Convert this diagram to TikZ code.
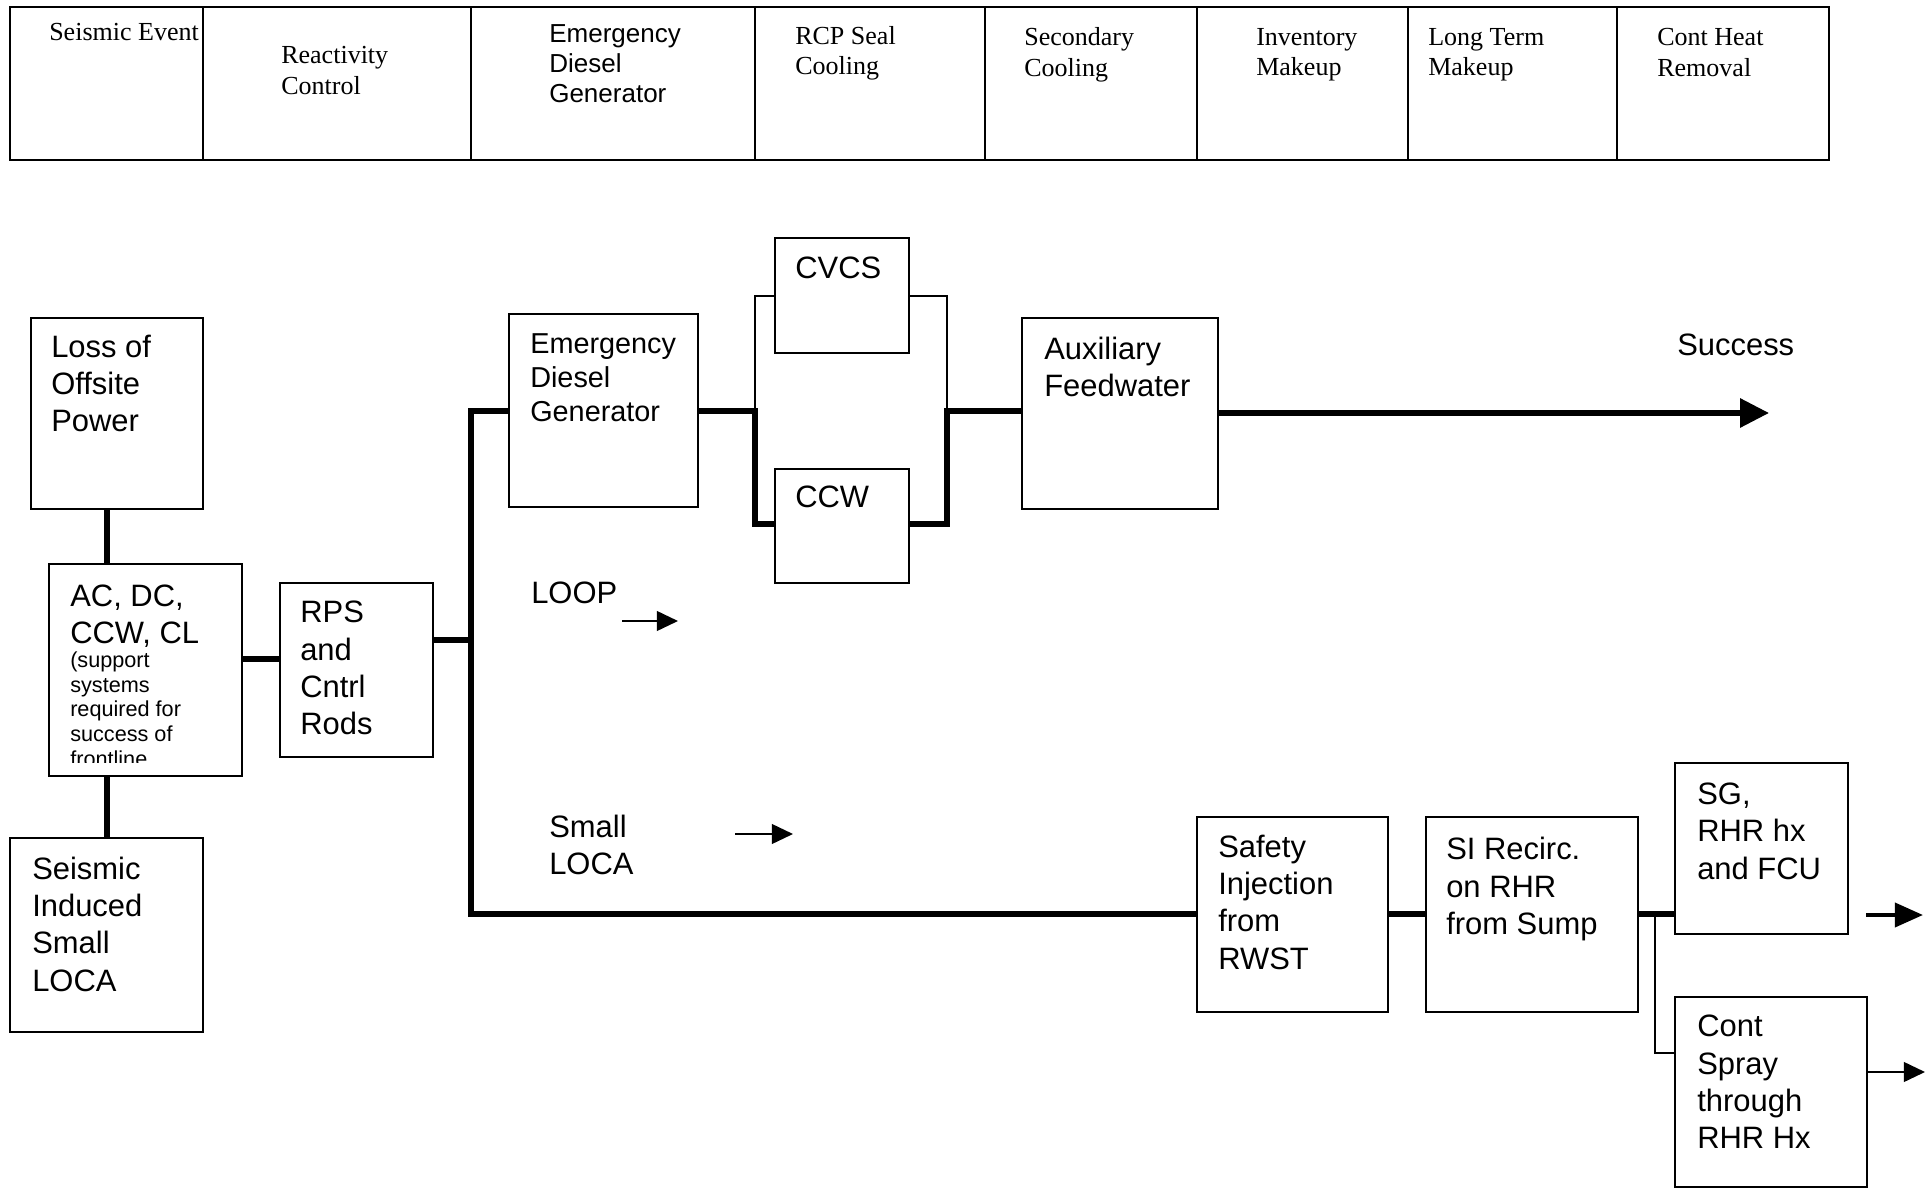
\documentclass[tikz,border=0pt]{standalone}
\usepackage{fontspec}
\setmainfont{Liberation Serif}
\setsansfont{Liberation Sans}
\usetikzlibrary{fit,arrows.meta}
\begin{document}
\begin{tikzpicture}[x=0.025cm,y=-0.025cm,
  box/.style={draw, line width=1.4pt, inner sep=0pt, rectangle},
  cell/.style={draw, line width=1.6pt, inner sep=0pt, rectangle},
  hdr/.style={font=\fontsize{18.5}{22}\selectfont, align=left, anchor=west, inner sep=0pt, text depth=0pt},
  hdrs/.style={font=\sffamily\fontsize{18.5}{21.5}\selectfont, align=left, anchor=west, inner sep=0pt, text depth=0pt},
  lbl/.style={font=\sffamily\fontsize{22}{26.5}\selectfont, align=left, anchor=west, inner sep=0pt, text depth=0pt},
  lbls/.style={font=\sffamily\fontsize{20.5}{24}\selectfont, align=left, anchor=west, inner sep=0pt, text depth=0pt},
  smalltxt/.style={font=\sffamily\fontsize{15.4}{17.5}\selectfont, align=left, anchor=west, inner sep=0pt, text depth=0pt},
  thickc/.style={line width=3.8pt},
  thinc/.style={line width=1.4pt},
]
\useasboundingbox[fill=white] (0,0) rectangle (1929,1188);

% ---------- header table ----------
\node[cell, fit={(10,7)(203,160)}] (h1) {};
\node[cell, fit={(203,7)(471,160)}] (h2) {};
\node[cell, fit={(471,7)(755,160)}] (h3) {};
\node[cell, fit={(755,7)(985,160)}] (h4) {};
\node[cell, fit={(985,7)(1197,160)}] (h5) {};
\node[cell, fit={(1197,7)(1408,160)}] (h6) {};
\node[cell, fit={(1408,7)(1617,160)}] (h7) {};
\node[cell, fit={(1617,7)(1829,160)}] (h8) {};

\node[hdr]  (t1) at (49,32)     {Seismic Event};
\node[hdr]  (t2) at (281,70)    {Reactivity\\Control};
\node[hdrs] (t3) at (549,63.5)  {Emergency\\Diesel\\Generator};
\node[hdr]  (t4) at (795,50.5)  {RCP Seal\\Cooling};
\node[hdr]  (t5) at (1024,52)   {Secondary\\Cooling};
\node[hdr]  (t6) at (1256,52)   {Inventory\\Makeup};
\node[hdr]  (t7) at (1428,52)   {Long Term\\Makeup};
\node[hdr]  (t8) at (1657,52)   {Cont Heat\\Removal};

% ---------- boxes ----------
\node[box, fit={(31,318)(203,509)}]    (lop)  {};
\node[box, fit={(49,564)(242,776)}]    (sup)  {};
\node[box, fit={(10,838)(203,1032)}]   (sil)  {};
\node[box, fit={(280,583)(433,757)}]   (rps)  {};
\node[box, fit={(509,314)(698,507)}]   (edg)  {};
\node[box, fit={(775,238)(909,353)}]   (cvcs) {};
\node[box, fit={(775,469)(909,583)}]   (ccw)  {};
\node[box, fit={(1022,318)(1218,509)}] (afw)  {};
\node[box, fit={(1197,817)(1388,1012)}] (si)  {};
\node[box, fit={(1426,817)(1638,1012)}] (sir) {};
\node[box, fit={(1675,763)(1848,934)}] (sg)   {};
\node[box, fit={(1675,997)(1867,1187)}] (cs)  {};

% ---------- texts ----------
\node[lbl] (tlop) at (51,383.5) {Loss of\\Offsite\\Power};
\node[lbl] (tsup) at (70,614) {AC, DC,\\CCW, CL};
\begin{scope}
  \clip (49,564) rectangle (242,762);
  \node[smalltxt] (tsup2) at (70,709) {(support\\systems\\required for\\success of\\frontline};
\end{scope}
\node[lbl] (tsil) at (32,924) {Seismic\\Induced\\Small\\LOCA};
\node[lbl] (trps) at (300,668) {RPS\\and\\Cntrl\\Rods};
\node[lbls] (tedg) at (530,377.5) {Emergency\\Diesel\\Generator};
\node[lbl] (tcvcs) at (795,268) {CVCS};
\node[lbl] (tccw) at (795,497) {CCW};
\node[lbl] (tafw) at (1044,367) {Auxiliary\\Feedwater};
\node[lbl] (tsucc) at (1677,345) {Success};
\node[lbl] (tloop) at (531,593) {LOOP};
\node[lbl] (tloca) at (549,844.5) {Small\\LOCA};
\node[lbl] (tsi) at (1218,902) {Safety\\Injection\\from\\RWST};
\node[lbl] (tsir) at (1446,886) {SI Recirc.\\on RHR\\from Sump};
\node[lbl] (tsg) at (1697,831) {SG,\\RHR hx\\and FCU};
\node[lbl] (tcs) at (1697,1082) {Cont\\Spray\\through\\RHR Hx};

% ---------- helper coordinates ----------
\coordinate (xA) at (107,0);
\coordinate (yA) at (0,659);
\coordinate (yB) at (0,640);
\coordinate (busx) at (471,0);
\coordinate (yT) at (0,411);
\coordinate (yL) at (0,914);
\coordinate (xL) at (755,0);
\coordinate (xR) at (947,0);
\coordinate (yV) at (0,296);
\coordinate (yC) at (0,524);
\coordinate (xB) at (1655,0);
\coordinate (yCS) at (0,1053);
\coordinate (succtip) at (1769,413);
\coordinate (sgs) at (1866,915);
\coordinate (sgtip) at (1923,915);
\coordinate (cstip) at (1925,1072);
\coordinate (loops) at (622,621);
\coordinate (looptip) at (678,621);
\coordinate (locas) at (735,834);
\coordinate (locatip) at (793,834);

% ---------- connectors ----------
\draw[thickc] (xA |- lop.south) -- (xA |- sup.north);
\draw[thickc] (xA |- sup.south) -- (xA |- sil.north);
\draw[thickc] (sup.east |- yA) -- (rps.west |- yA);
\draw[thickc] (rps.east |- yB) -- (busx |- yB);
\draw[thickc] (edg.west |- yT) -| (busx |- yL) -- (si.west |- yL);

\draw[thickc] (edg.east |- yT) -- (xL |- yT) -- (xL |- yC) -- (ccw.west |- yC);
\draw[thinc] (xL |- yT) -- (xL |- yV) -- (cvcs.west |- yV);
\draw[thinc] (cvcs.east |- yV) -- (xR |- yV) -- (xR |- yT);
\draw[thickc] (ccw.east |- yC) -- (xR |- yC) -- (xR |- yT) -- (afw.west |- yT);

\draw[thickc, -{Triangle[length=20.5pt,width=20pt]}] (afw.east |- succtip) -- (succtip);

\draw[thickc] (si.east |- yL) -- (sir.west |- yL);
\draw[thickc] (sir.east |- yL) -- (sg.west |- yL);
\draw[thinc] (xB |- yL) -- (xB |- yCS) -- (cs.west |- yCS);

\draw[line width=3pt, -{Triangle[length=20pt,width=17pt]}] (sgs) -- (sgtip);
\draw[thinc, -{Triangle[length=15pt,width=14pt]}] (cs.east |- cstip) -- (cstip);
\draw[thinc, -{Triangle[length=15pt,width=14pt]}] (loops) -- (looptip);
\draw[thinc, -{Triangle[length=15pt,width=14pt]}] (locas) -- (locatip);
\end{tikzpicture}
\end{document}
